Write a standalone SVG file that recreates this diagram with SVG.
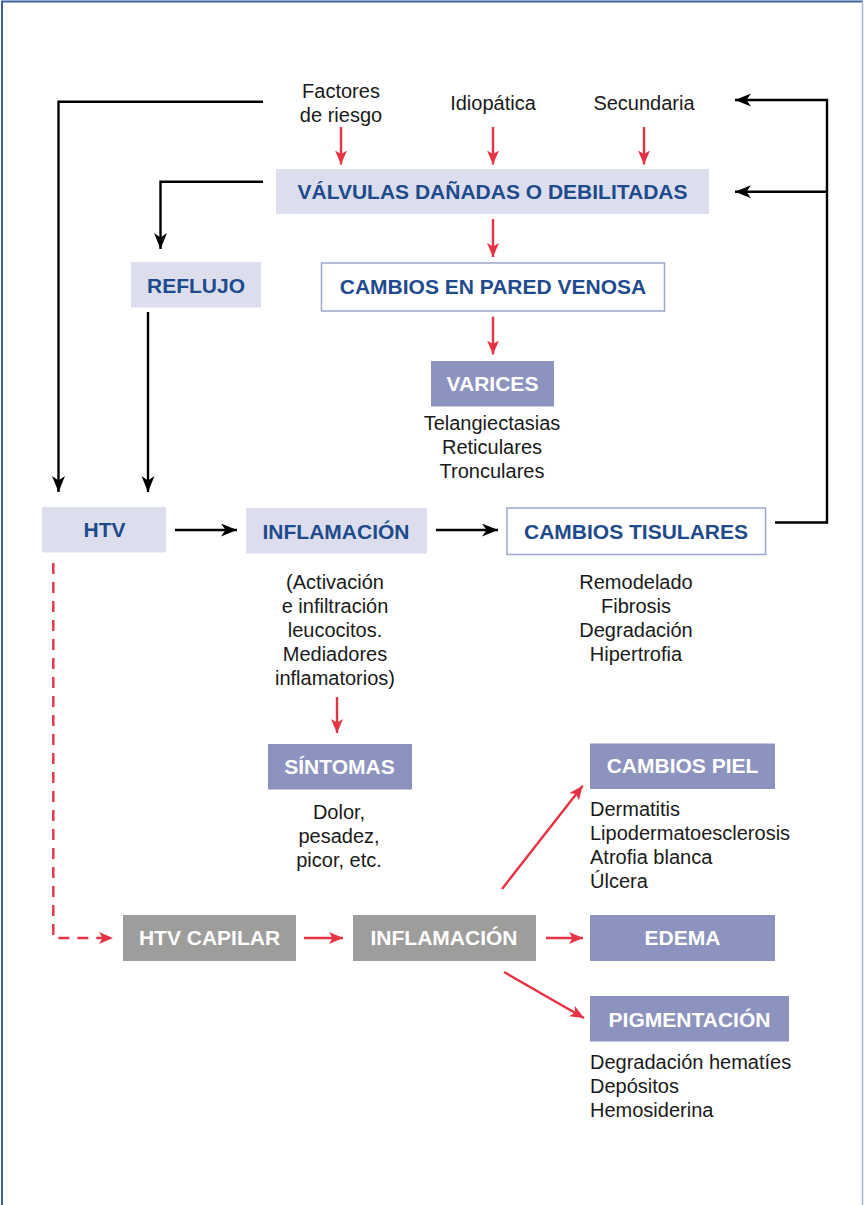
<svg xmlns="http://www.w3.org/2000/svg" width="864" height="1205" viewBox="0 0 864 1205">
<defs>
<style>
.t{font-family:"Liberation Sans",Arial,sans-serif;font-size:20px;fill:#1a1a1a;}
.b{font-family:"Liberation Sans",Arial,sans-serif;font-size:21px;font-weight:bold;text-anchor:middle;}
.bl{fill:#1f4a8c;}
.wh{fill:#ffffff;}
.c{text-anchor:middle;}
.lt{fill:#dcdeee;}
.md{fill:#8d93bf;}
.gr{fill:#9d9d9c;}
.ol{fill:#ffffff;stroke:#9ea5cf;stroke-width:1.5;}
.k{fill:none;stroke:#000;stroke-width:2.4;marker-end:url(#ak);}
.r{fill:none;stroke:#e63343;stroke-width:2.4;marker-end:url(#ar);}
.rd{fill:none;stroke:#e63343;stroke-width:2.4;stroke-dasharray:11 8;marker-end:url(#ar);}
</style>
<marker id="ak" markerUnits="userSpaceOnUse" markerWidth="17" markerHeight="14" refX="16" refY="6.5" orient="auto">
<path d="M0,0 L16,6.5 L0,13 L4.5,6.5 Z" fill="#000"/>
</marker>
<marker id="ar" markerUnits="userSpaceOnUse" markerWidth="15" markerHeight="13" refX="14" refY="6" orient="auto">
<path d="M0,0 L14,6 L0,12 L3.5,6 Z" fill="#e63343"/>
</marker>
</defs>
<rect width="864" height="1205" fill="#ffffff"/>
<g id="frame">
<line x1="1" y1="1.5" x2="863" y2="1.5" stroke="#3d5f9f" stroke-width="2"/>
<line x1="2" y1="1" x2="2" y2="1205" stroke="#3d5f9f" stroke-width="2"/>
<line x1="862.5" y1="1" x2="862.5" y2="1205" stroke="#a9b3cc" stroke-width="1.5"/>
</g>
<g id="connectors">
<path class="k" d="M263,101.7 H58.5 V492"/>
<path class="k" d="M263,181.7 H160.5 V249"/>
<path class="k" d="M148,312 V492"/>
<path class="k" d="M175,530 H237"/>
<path class="k" d="M436,530 H498"/>
<path class="k" d="M775,522.5 H827 V100 H735"/>
<path class="k" d="M827,191.7 H735"/>
<path class="r" d="M341,127 V164.5"/>
<path class="r" d="M493,127 V164.5"/>
<path class="r" d="M644,127 V164.5"/>
<path class="r" d="M493,219 V257"/>
<path class="r" d="M493,316.7 V354.5"/>
<path class="r" d="M337,697 V733"/>
<path class="rd" d="M53.3,563 V938 H113"/>
<path class="r" d="M304,938 H343"/>
<path class="r" d="M546,938 H583"/>
<path class="r" d="M502,889 L582.7,785.7"/>
<path class="r" d="M504,972 L584,1018"/>
</g>
<g id="factores"><text class="t c" x="341" y="98">Factores</text><text class="t c" x="341" y="122">de riesgo</text></g>
<g id="idiopatica"><text class="t c" x="493" y="110">Idiopática</text></g>
<g id="secundaria"><text class="t c" x="644" y="110">Secundaria</text></g>
<g id="valvulas"><rect class="lt" x="276" y="169" width="433" height="45"/><text class="b bl" x="492.5" y="199">VÁLVULAS DAÑADAS O DEBILITADAS</text></g>
<g id="reflujo"><rect class="lt" x="131" y="262" width="130" height="45.5"/><text class="b bl" x="196" y="293">REFLUJO</text></g>
<g id="pared"><rect class="ol" x="321.5" y="263" width="343" height="48"/><text class="b bl" x="493" y="294">CAMBIOS EN PARED VENOSA</text></g>
<g id="varices"><rect class="md" x="431" y="361" width="123" height="45.5"/><text class="b wh" x="492.5" y="391">VARICES</text>
<text class="t c" x="492" y="430">Telangiectasias</text><text class="t c" x="492" y="454">Reticulares</text><text class="t c" x="492" y="478">Tronculares</text></g>
<g id="htv"><rect class="lt" x="42" y="507" width="124" height="45.5"/><text class="b bl" x="104.5" y="537">HTV</text></g>
<g id="inflamacion"><rect class="lt" x="246" y="508" width="181" height="45.5"/><text class="b bl" x="336" y="538.5">INFLAMACIÓN</text>
<text class="t c" x="335" y="589">(Activación</text><text class="t c" x="335" y="613">e infiltración</text><text class="t c" x="335" y="637">leucocitos.</text><text class="t c" x="335" y="661">Mediadores</text><text class="t c" x="335" y="685">inflamatorios)</text></g>
<g id="tisulares"><rect class="ol" x="507" y="508" width="258.5" height="46.5"/><text class="b bl" x="636" y="538.5">CAMBIOS TISULARES</text>
<text class="t c" x="636" y="589">Remodelado</text><text class="t c" x="636" y="613">Fibrosis</text><text class="t c" x="636" y="637">Degradación</text><text class="t c" x="636" y="661">Hipertrofia</text></g>
<g id="sintomas"><rect class="md" x="268" y="744" width="144" height="45.5"/><text class="b wh" x="339.5" y="773.5">SÍNTOMAS</text>
<text class="t c" x="339" y="819">Dolor,</text><text class="t c" x="339" y="843">pesadez,</text><text class="t c" x="339" y="867">picor, etc.</text></g>
<g id="htvcapilar"><rect class="gr" x="123" y="915" width="173" height="46"/><text class="b wh" x="209.5" y="945">HTV CAPILAR</text></g>
<g id="inflamacion2"><rect class="gr" x="353" y="915" width="183" height="46"/><text class="b wh" x="444" y="945">INFLAMACIÓN</text></g>
<g id="piel"><rect class="md" x="590" y="743.5" width="185" height="45.5"/><text class="b wh" x="682.5" y="772.5">CAMBIOS PIEL</text>
<text class="t" x="590" y="816">Dermatitis</text><text class="t" x="590" y="840">Lipodermatoesclerosis</text><text class="t" x="590" y="864">Atrofia blanca</text><text class="t" x="590" y="887.5">Úlcera</text></g>
<g id="edema"><rect class="md" x="590" y="915" width="185" height="46"/><text class="b wh" x="682.5" y="944.5">EDEMA</text></g>
<g id="pigmentacion"><rect class="md" x="590" y="996" width="199" height="45.5"/><text class="b wh" x="689.5" y="1026.5">PIGMENTACIÓN</text>
<text class="t" x="590" y="1068.5">Degradación hematíes</text><text class="t" x="590" y="1092.5">Depósitos</text><text class="t" x="590" y="1116.5">Hemosiderina</text></g>
</svg>
